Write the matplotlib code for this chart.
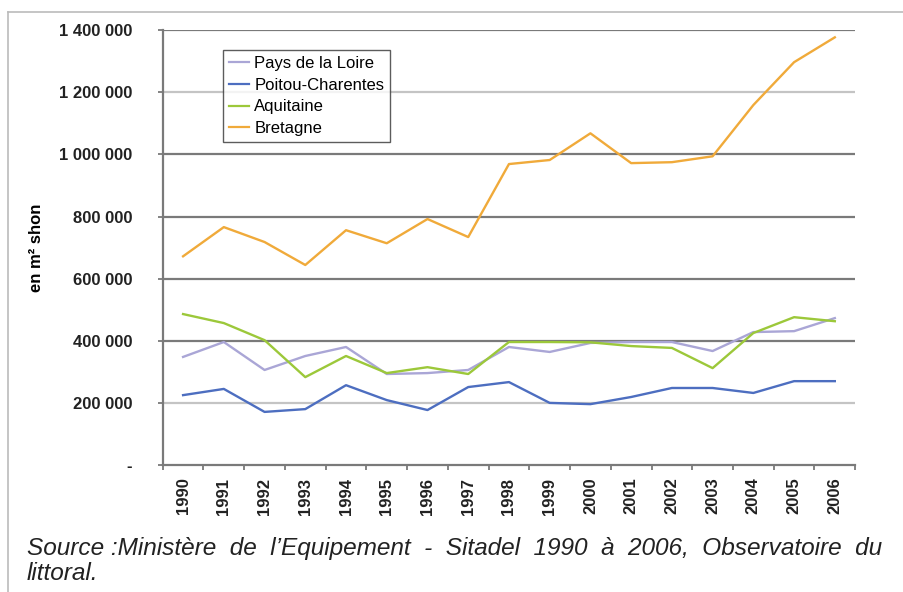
import matplotlib.pyplot as plt
from matplotlib.ticker import FuncFormatter, FixedLocator
from matplotlib.lines import Line2D

plt.rcParams['font.family'] = ['Liberation Sans', 'DejaVu Sans']

# Données (m² shon)
annees = list(range(1990, 2007))
pays_de_la_loire = [348000, 396000, 306000, 351000, 380000, 293000, 296000, 306000, 380000,
                    364000, 393000, 396000, 396000, 367000, 428000, 431000, 473000]
poitou_charentes = [225000, 245000, 171000, 180000, 257000, 209000, 177000, 251000, 267000,
                    200000, 196000, 219000, 248000, 248000, 232000, 270000, 270000]
aquitaine = [486000, 457000, 402000, 283000, 351000, 296000, 315000, 293000, 396000,
             396000, 395000, 383000, 377000, 312000, 425000, 476000, 463000]
bretagne = [672000, 766000, 718000, 644000, 756000, 714000, 792000, 734000, 969000,
            982000, 1068000, 972000, 975000, 994000, 1159000, 1297000, 1377000]

series = [("Pays de la Loire", pays_de_la_loire, "#aaa6d6"),
          ("Poitou-Charentes", poitou_charentes, "#4d6ec0"),
          ("Aquitaine", aquitaine, "#9cc83a"),
          ("Bretagne", bretagne, "#f0aa3a")]

fig = plt.figure(figsize=(9.04, 5.92), dpi=100)
ax = fig.add_axes([0.180, 0.2145, 0.766, 0.7345])

# grille horizontale (deux teintes comme sur l'original)
for v in range(200000, 1400001, 200000):
    col = "#c4c4c4" if v in (200000, 1200000) else "#7a7a7a"
    ax.axhline(v, color=col, lw=1.6, zorder=1)

x = list(range(len(annees)))
for nom, vals, col in series:
    ax.plot(x, vals, color=col, lw=1.7, label=nom, zorder=3)

ax.set_xlim(-0.5, len(annees) - 0.5)
ax.set_ylim(0, 1400000)
ax.set_yticks(range(0, 1400001, 200000))
ax.yaxis.set_major_formatter(FuncFormatter(
    lambda v, p: "-" if v == 0 else f"{int(v):,}".replace(",", " ")))
ax.set_xticks(x)
ax.set_xticklabels([str(a) for a in annees], rotation=90)
ax.xaxis.set_minor_locator(FixedLocator([i - 0.5 for i in range(len(annees) + 1)]))
ax.tick_params(axis="x", which="major", length=0, pad=9)
ax.tick_params(axis="x", which="minor", length=3.5, width=1.3, color="#7a7a7a")
ax.tick_params(axis="y", length=3.5, width=1.3, color="#7a7a7a", pad=18.5)
for lab in ax.get_xticklabels() + ax.get_yticklabels():
    lab.set_fontweight("bold")
    lab.set_fontsize(12)
    lab.set_color("#222222")

for s in ("top", "right"):
    ax.spines[s].set_visible(False)
for s in ("left", "bottom"):
    ax.spines[s].set_color("#7a7a7a")
    ax.spines[s].set_linewidth(1.6)

ax.set_ylabel("en m² shon", fontweight="bold", fontsize=12)
ax.yaxis.set_label_coords(-0.172, 0.5)

handles = [Line2D([], [], color=c, lw=1.6) for _, _, c in series]
leg = ax.legend(handles, [n for n, _, _ in series], loc="upper left",
                bbox_to_anchor=(0.0866, 0.954), borderaxespad=0, fontsize=12,
                frameon=True, fancybox=False, handlelength=1.25, handletextpad=0.3,
                labelspacing=0.4, borderpad=0.35, edgecolor="#333333")
leg.get_frame().set_linewidth(1.0)

# cadre de la page
fig.add_artist(Line2D([8 / 904, 1], [1 - 12 / 592, 1 - 12 / 592], color="#bbbbbb", lw=1.2))
fig.add_artist(Line2D([8 / 904, 8 / 904], [0, 1 - 12 / 592], color="#bbbbbb", lw=1.2))

fig.text(27 / 904, 1 - 548 / 592,
         "Source :Ministère  de  l’Equipement  -  Sitadel  1990  à  2006,  Observatoire  du",
         fontsize=17.6, style="italic", color="#222222", va="center")
fig.text(27 / 904, 1 - 574 / 592, "littoral.", fontsize=17.6, style="italic",
         color="#222222", va="center")

fig.savefig("out.png", dpi=100)
